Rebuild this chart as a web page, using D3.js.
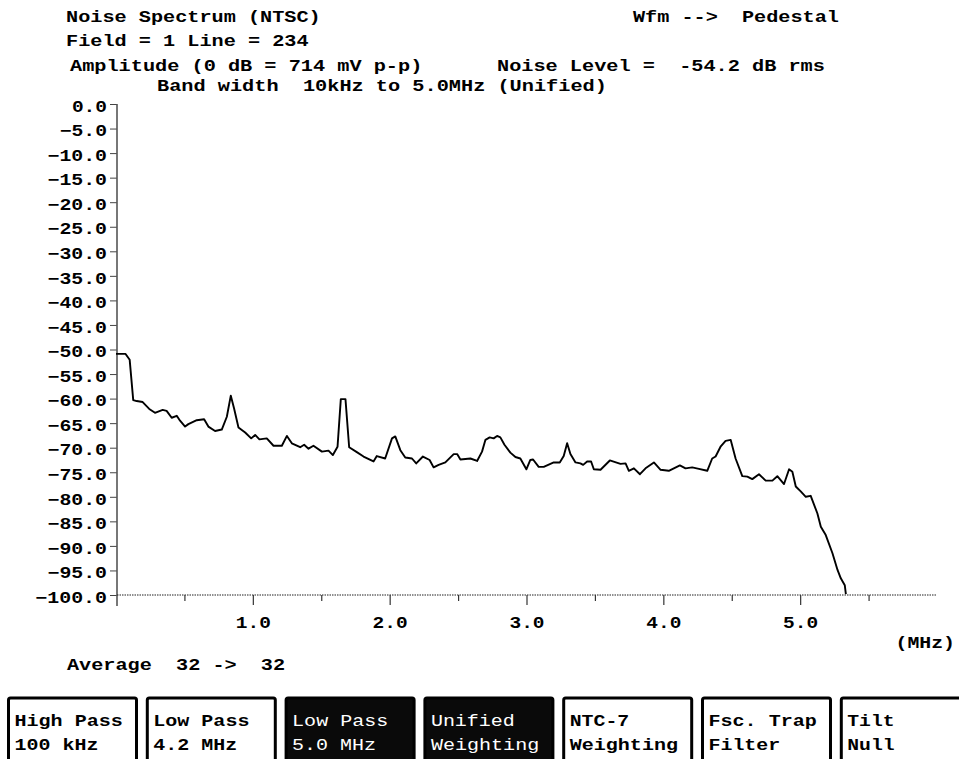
<!DOCTYPE html>
<html><head><meta charset="utf-8">
<script src="https://cdn.jsdelivr.net/npm/d3@7"></script>
<style>
html,body{margin:0;padding:0;background:#fff;}
svg{display:block;}
svg text{white-space:pre;}
</style></head>
<body>
<svg id="chart" width="959" height="759"></svg>
<script>
// ---- data ----
const freqMHz = [0,0.07,0.10,0.126,0.151,0.195,0.243,0.285,0.341,0.37,0.407,0.444,0.468,0.505,0.529,0.59,0.644,0.675,0.724,0.773,0.81,0.839,0.863,0.895,0.944,0.988,1.017,1.048,1.102,1.151,1.212,1.249,1.285,1.346,1.375,1.407,1.443,1.505,1.553,1.585,1.619,1.643,1.677,1.704,1.76,1.809,1.882,1.906,1.967,2.017,2.041,2.078,2.114,2.163,2.194,2.243,2.292,2.321,2.358,2.407,2.468,2.493,2.517,2.59,2.639,2.675,2.70,2.731,2.76,2.785,2.809,2.839,2.882,2.919,2.955,2.999,3.028,3.048,3.089,3.126,3.199,3.243,3.272,3.297,3.321,3.358,3.394,3.414,3.443,3.472,3.492,3.541,3.609,3.687,3.724,3.748,3.785,3.829,3.87,3.931,3.98,4.04,4.121,4.162,4.211,4.26,4.321,4.357,4.382,4.418,4.455,4.492,4.528,4.577,4.614,4.65,4.699,4.748,4.797,4.833,4.882,4.919,4.943,4.968,5.004,5.041,5.077,5.126,5.151,5.187,5.236,5.273,5.297,5.326,5.334];
const levelDb = [-50.9,-50.9,-52.1,-60.3,-60.5,-60.7,-62.1,-62.9,-62.3,-62.5,-63.9,-63.5,-64.5,-65.7,-65.2,-64.4,-64.2,-65.7,-66.6,-66.3,-63.7,-59.4,-62.0,-65.9,-66.9,-68.1,-67.4,-68.3,-68.1,-69.6,-69.6,-67.6,-69.1,-69.9,-69.4,-70.2,-69.6,-70.8,-70.6,-71.5,-69.8,-60.1,-60.1,-69.9,-70.9,-71.8,-72.8,-71.7,-72.2,-68.1,-67.7,-70.5,-72.0,-72.2,-73.2,-71.8,-72.5,-74.0,-73.5,-73.0,-71.3,-71.3,-72.4,-72.2,-72.7,-70.8,-68.4,-67.9,-68.1,-67.6,-67.9,-69.4,-71.0,-71.9,-72.2,-74.4,-72.5,-72.4,-73.9,-73.9,-73.0,-73.0,-71.7,-69.1,-71.3,-73.0,-73.2,-73.5,-72.8,-72.8,-74.4,-74.5,-72.6,-73.3,-73.2,-74.7,-74.2,-75.4,-74.2,-73.0,-74.5,-74.7,-73.6,-74.2,-74.0,-74.3,-74.7,-72.2,-71.8,-69.8,-68.6,-68.4,-72.2,-75.8,-75.9,-76.4,-75.4,-76.7,-76.7,-75.8,-77.4,-74.4,-74.9,-77.9,-78.9,-80.0,-79.8,-83.4,-86.1,-87.8,-91.5,-94.9,-96.6,-98.0,-99.8];

const yTickValues = [0,-5,-10,-15,-20,-25,-30,-35,-40,-45,-50,-55,-60,-65,-70,-75,-80,-85,-90,-95,-100];
const xMajorTicks = [1,2,3,4,5];
const xMinorTicks = [0.5,1.5,2.5,3.5,4.5,5.5];

const headerLines = [
  {t:"Noise Spectrum (NTSC)", x:66, y:22},
  {t:"Wfm -->  Pedestal", x:633, y:22},
  {t:"Field = 1 Line = 234", x:66, y:46},
  {t:"Amplitude (0 dB = 714 mV p-p)", x:70, y:71},
  {t:"Noise Level =  -54.2 dB rms", x:497, y:71},
  {t:"Band width  10kHz to 5.0MHz (Unified)", x:157, y:91}
];
const buttonLabels = [
  ["High Pass","100 kHz"],
  ["Low Pass","4.2 MHz"],
  ["Low Pass","5.0 MHz"],
  ["Unified","Weighting"],
  ["NTC-7","Weighting"],
  ["Fsc. Trap","Filter"],
  ["Tilt","Null"]
];
const buttonActive = [false,false,true,true,false,false,false];

// ---- drawing ----
const CW = 12.2;
const FS = 16;
const FONT = "'Liberation Mono','Courier New',monospace";
const svg = d3.select("#chart");

function stretch(sel){
  sel.each(function(){
    const s = d3.select(this);
    const n = s.text().length;
    s.attr("textLength", n*CW - 1.5).attr("lengthAdjust","spacingAndGlyphs");
  });
}

const x = d3.scaleLinear().domain([0,6]).range([116,937]);
const y = d3.scaleLinear().domain([0,-100]).range([104,595]);

// header texts
svg.selectAll("text.hdr").data(headerLines).join("text")
  .attr("class","hdr")
  .attr("x",d=>d.x).attr("y",d=>d.y)
  .attr("font-family",FONT).attr("font-weight","bold").attr("font-size",FS)
  .attr("fill","#000")
  .text(d=>d.t)
  .call(stretch);

// y axis
const yAxis = d3.axisLeft(y).tickValues(yTickValues).tickSize(7).tickPadding(3)
  .tickFormat(d=>d3.format(".1f")(d));
const gy = svg.append("g").attr("transform","translate(117,0)").call(yAxis);
gy.select(".domain").remove();
gy.selectAll(".tick line").attr("stroke","#444").attr("stroke-width",1);
gy.selectAll(".tick text").attr("font-family",FONT).attr("font-weight","bold")
  .attr("font-size",FS).attr("fill","#000").attr("dy","0.45em").call(stretch);
svg.append("line").attr("x1",117).attr("x2",117).attr("y1",y(0)).attr("y2",606)
  .attr("stroke","#555").attr("stroke-width",1.6);

// x axis baseline (dotted)
svg.append("line").attr("x1",117).attr("x2",937).attr("y1",y(-100)).attr("y2",y(-100))
  .attr("stroke","#222").attr("stroke-width",1.2).attr("stroke-dasharray","1.5,1");
const xAxis = d3.axisBottom(x).tickValues(xMajorTicks).tickSize(10).tickPadding(11)
  .tickFormat(d=>d3.format(".1f")(d));
const gx = svg.append("g").attr("transform",`translate(0,${y(-100)})`).call(xAxis);
gx.select(".domain").remove();
gx.selectAll(".tick line").attr("stroke","#333").attr("stroke-width",1.2);
gx.selectAll(".tick text").attr("font-family",FONT).attr("font-weight","bold")
  .attr("font-size",17).attr("fill","#000").call(stretch);
const xAxisMinor = d3.axisBottom(x).tickValues(xMinorTicks).tickSize(6).tickFormat("");
const gx2 = svg.append("g").attr("transform",`translate(0,${y(-100)})`).call(xAxisMinor);
gx2.select(".domain").remove();
gx2.selectAll(".tick line").attr("stroke","#333").attr("stroke-width",1.2);

svg.append("text").attr("x",955).attr("y",648).attr("text-anchor","end")
  .attr("font-family",FONT).attr("font-weight","bold").attr("font-size",FS)
  .text("(MHz)").call(stretch);

// curve
const pts = freqMHz.map((f,i)=>[f,levelDb[i]]);
svg.append("path").datum(pts)
  .attr("fill","none").attr("stroke","#000").attr("stroke-width",1.9)
  .attr("stroke-linejoin","round")
  .attr("d", d3.line().x(d=>x(d[0])).y(d=>y(d[1])));

// average line
svg.append("text").attr("x",67).attr("y",670)
  .attr("font-family",FONT).attr("font-weight","bold").attr("font-size",FS)
  .text("Average  32 ->  32").call(stretch);

// buttons
const bx = d3.scaleLinear().domain([0,1]).range([8.5,147.3]);
const btn = svg.selectAll("g.btn").data(buttonLabels).join("g").attr("class","btn")
  .attr("transform",(d,i)=>`translate(${bx(i)},698)`);
btn.append("rect").attr("x",0).attr("y",0).attr("width",128).attr("height",80).attr("rx",2)
  .attr("fill",(d,i)=>buttonActive[i]?"#0a0a0a":"#fff")
  .attr("stroke","#000").attr("stroke-width",3);
btn.each(function(d,i){
  const g = d3.select(this);
  d.forEach((line,k)=>{
    g.append("text").attr("x",6).attr("y",28+k*24)
      .attr("font-family",FONT)
      .attr("font-weight",buttonActive[i]?"normal":"bold")
      .attr("font-size",FS)
      .attr("fill",buttonActive[i]?"#fff":"#000")
      .text(line).call(stretch);
  });
});
</script>
</body></html>
